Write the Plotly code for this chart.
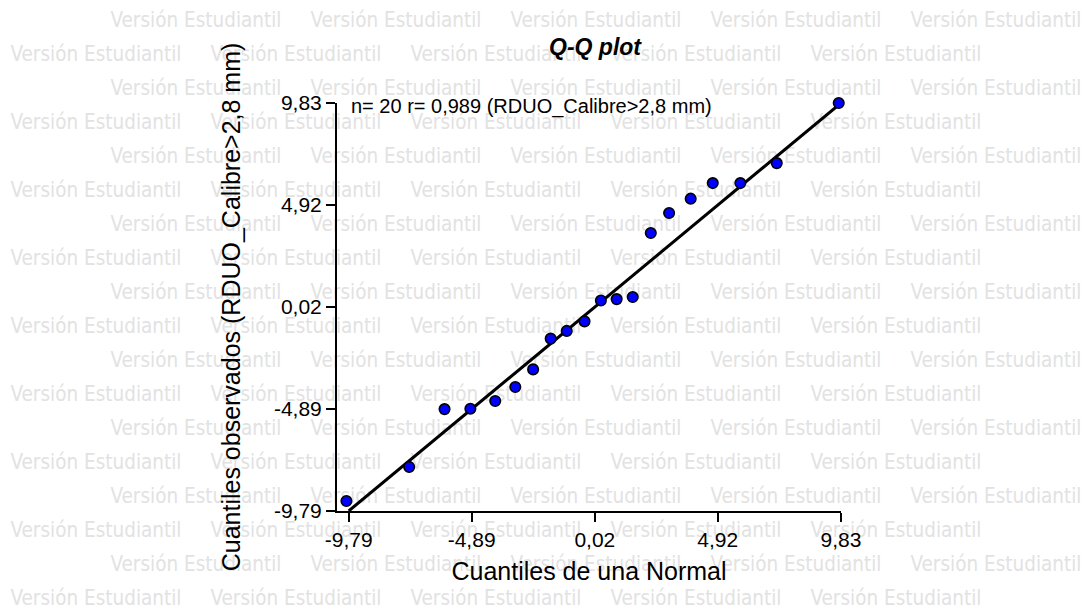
import plotly.graph_objects as go

# ---- data ----
theoretical_q = [9.74, 7.27, 5.82, 4.72, 3.84, 2.98, 2.25, 1.53, 0.89, 0.26,
                 -0.39, -1.10, -1.74, -2.44, -3.15, -3.95, -4.94, -5.97, -7.38, -9.88]
observed_q = [9.83, 6.94, 5.98, 5.98, 5.23, 4.54, 3.58, 0.50, 0.40, 0.33,
              -0.67, -1.13, -1.50, -2.98, -3.83, -4.50, -4.87, -4.89, -7.67, -9.31]
ref_line_x = [-9.79, 9.83]
ref_line_y = [-9.79, 9.83]
tick_vals = [-9.79, -4.89, 0.02, 4.92, 9.83]
tick_text = ["-9,79", "-4,89", "0,02", "4,92", "9,83"]
title_text = "<b><i>Q-Q plot</i></b>"
x_title = "Cuantiles de una Normal"
y_title = "Cuantiles observados (RDUO_Calibre>2,8 mm)"
info_text = "n= 20 r= 0,989 (RDUO_Calibre>2,8 mm)"
watermark_text = "Versión Estudiantil"

W, H = 1086, 610
ML, MR, MT, MB = 337, 245, 103, 99
PW, PH = W - ML - MR, H - MT - MB

def px2paper_x(px):
    return (px - ML) / PW

def px2paper_y(py):
    return (H - MB - py) / PH

fig = go.Figure()

fig.add_trace(go.Scatter(
    x=ref_line_x, y=ref_line_y, mode="lines",
    line=dict(color="black", width=3), hoverinfo="skip", cliponaxis=False))

fig.add_trace(go.Scatter(
    x=theoretical_q, y=observed_q, mode="markers",
    marker=dict(color="#0000ff", size=10.5, line=dict(color="black", width=1.6)),
    cliponaxis=False))

# watermark tiling (below everything)
for k in range(18):
    cy = 18 + 34 * k
    start = 110 if k % 2 == 0 else 10
    for j in range(5):
        cx = start + 200 * j + 86
        fig.add_shape(
            type="rect", xref="paper", yref="paper",
            x0=px2paper_x(cx - 1), x1=px2paper_x(cx + 1),
            y0=px2paper_y(cy + 1), y1=px2paper_y(cy - 1),
            line=dict(width=0), fillcolor="rgba(0,0,0,0)", layer="below",
            label=dict(text=watermark_text, textposition="middle center",
                       font=dict(family="DejaVu Sans Condensed, DejaVu Sans", size=20.5,
                                 color="#e2e2e2")))

fig.add_annotation(
    text=info_text, xref="paper", yref="paper",
    x=px2paper_x(349), y=px2paper_y(107), xanchor="left", yanchor="middle",
    showarrow=False, font=dict(family="Liberation Sans, Arial", size=20, color="black"))

axis_common = dict(
    showgrid=False, zeroline=False, showline=True, linecolor="black", linewidth=2,
    ticks="outside", ticklen=9, tickwidth=2, tickcolor="black",
    tickvals=tick_vals, ticktext=tick_text,
    tickfont=dict(family="Liberation Sans, Arial", size=21, color="black"),
)

fig.update_layout(
    width=W, height=H,
    margin=dict(l=ML, r=MR, t=MT, b=MB, autoexpand=False),
    paper_bgcolor="white", plot_bgcolor="rgba(0,0,0,0)",
    showlegend=False,
    title=dict(text=title_text, xref="paper", x=px2paper_x(595), xanchor="center",
               yref="container", y=1 - 47 / H, yanchor="middle",
               font=dict(family="Liberation Sans, Arial", size=23, color="black")),
    xaxis=dict(range=[-10.256, 9.831],
               title=dict(text=x_title, standoff=12,
                          font=dict(family="Liberation Sans, Arial", size=25, color="black")),
               **axis_common),
    yaxis=dict(range=[-9.79, 9.831],
               title=dict(text=y_title, standoff=26,
                          font=dict(family="Liberation Sans, Arial", size=25, color="black")),
               **axis_common),
)

fig.write_html("out.html")
